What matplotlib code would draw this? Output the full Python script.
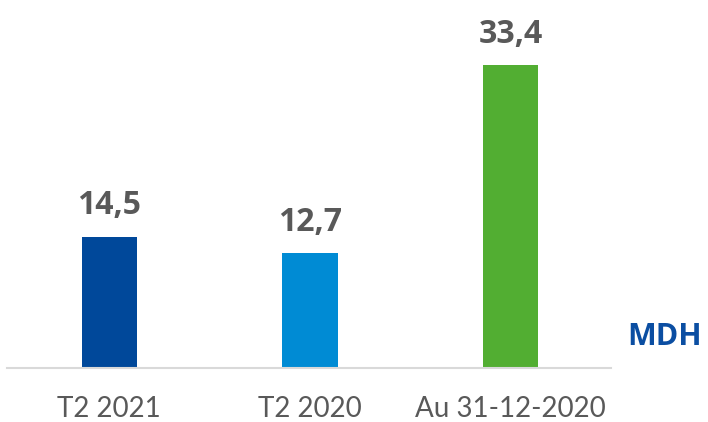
import matplotlib
matplotlib.use('Agg')
import matplotlib.pyplot as plt

# Données
categories = ['T2 2021', 'T2 2020', 'Au 31-12-2020']
valeurs = [14.5, 12.7, 33.4]
etiquettes = ['14,5', '12,7', '33,4']
couleurs = ['#00489A', '#008BD4', '#52AE32']

plt.rcParams['font.family'] = ['Lato', 'DejaVu Sans']

fig = plt.figure(figsize=(7.08, 4.22), dpi=100)
ax = fig.add_axes([7 / 708, 54 / 422, 604 / 708, 368 / 422])

x = range(len(categories))
barres = ax.bar(x, valeurs, width=0.275, color=couleurs)

# Valeurs au-dessus des barres
for b, txt in zip(barres, etiquettes):
    ax.annotate(txt, (b.get_x() + b.get_width() / 2, b.get_height()),
                xytext=(0, 16), textcoords='offset points',
                ha='center', va='baseline', fontsize=23, fontweight='bold',
                family=['Open Sans', 'DejaVu Sans'], color='#595959')

ax.set_xlim(-0.51, 2.5)
ax.set_ylim(0, 40.6)
ax.set_xticks(list(x))
ax.set_xticklabels(categories, fontsize=20, color='#595959')
ax.tick_params(axis='x', length=0, pad=20)
ax.set_yticks([])

for s in ['top', 'right', 'left']:
    ax.spines[s].set_visible(False)
ax.spines['bottom'].set_color('#D9D9D9')
ax.spines['bottom'].set_linewidth(1.5)

# Unité
fig.text(665 / 708, 1 - 345 / 422, 'MDH', ha='center', va='baseline',
         fontsize=22, fontweight='bold', family=['Open Sans', 'DejaVu Sans'],
         color='#0B4EA2')

fig.savefig('out.png', dpi=100)
